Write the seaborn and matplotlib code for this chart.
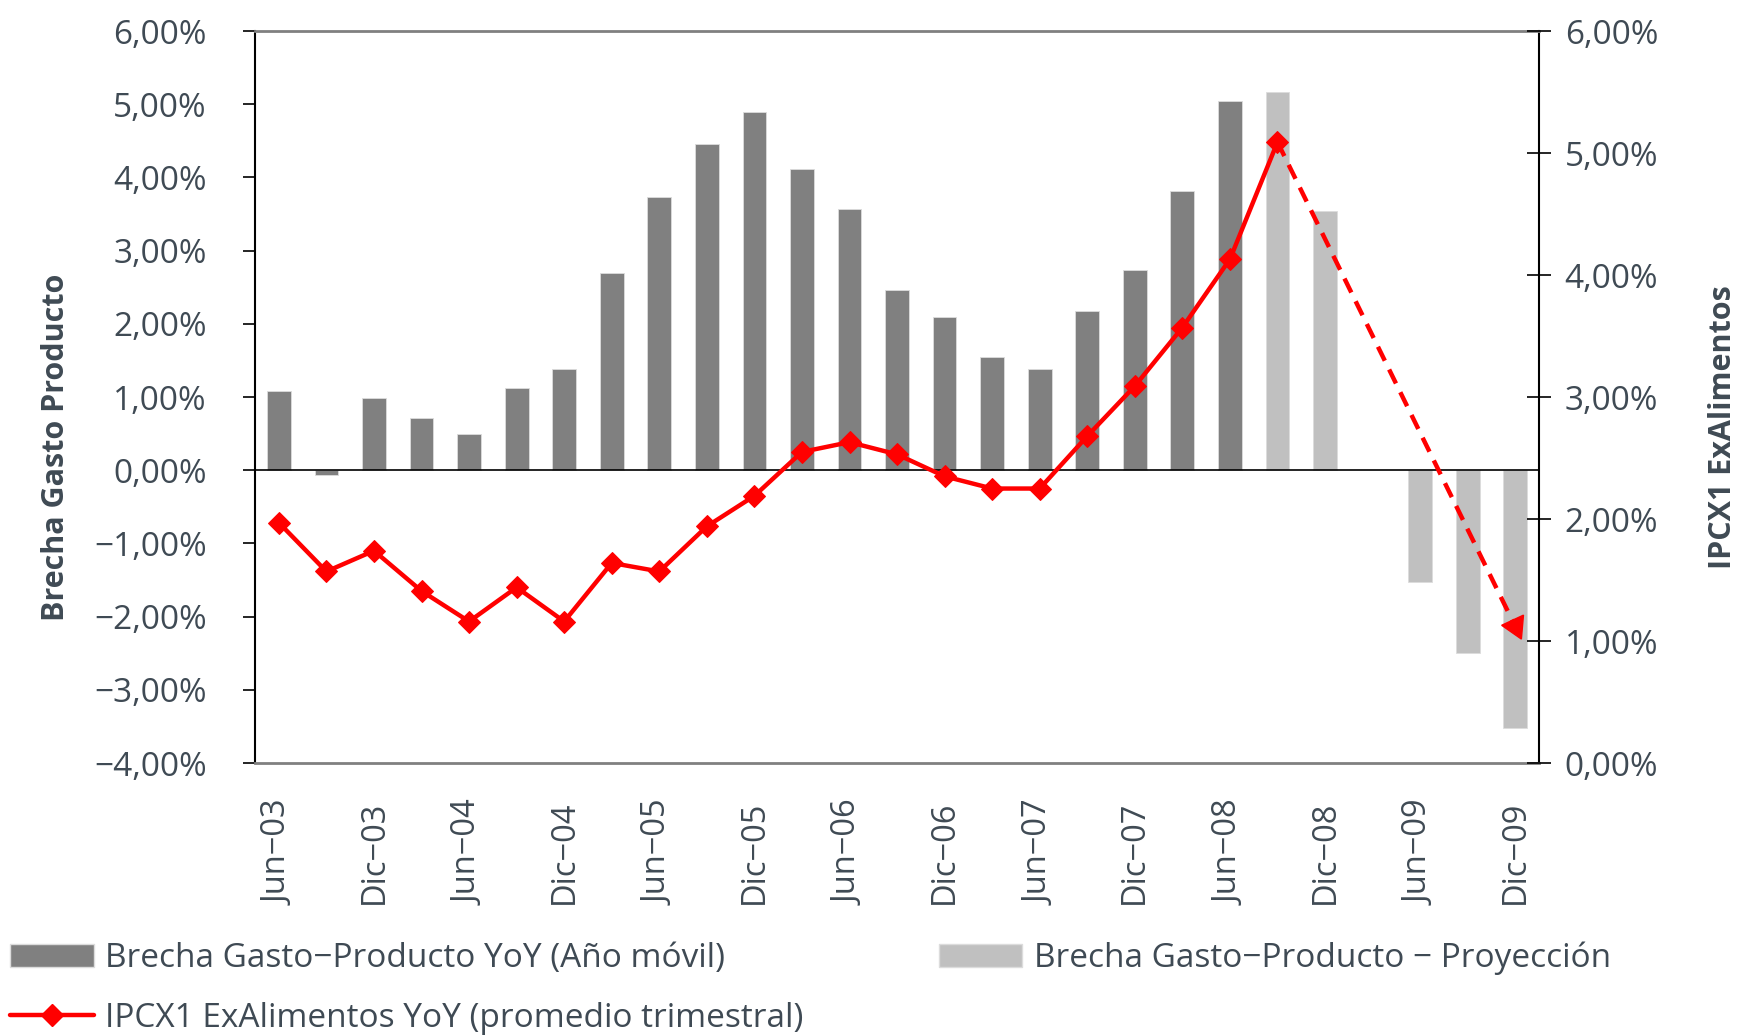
import numpy as np
import pandas as pd
import matplotlib
matplotlib.use("Agg")
import matplotlib.pyplot as plt
import seaborn as sns
from matplotlib.ticker import FuncFormatter, MultipleLocator
from matplotlib.patches import Patch
from matplotlib.lines import Line2D

# --------------------------------------------------
# Datos
# --------------------------------------------------
fechas = ["Jun−03", "Sep−03", "Dic−03", "Mar−04", "Jun−04", "Sep−04", "Dic−04",
          "Mar−05", "Jun−05", "Sep−05", "Dic−05", "Mar−06", "Jun−06", "Sep−06",
          "Dic−06", "Mar−07", "Jun−07", "Sep−07", "Dic−07", "Mar−08", "Jun−08",
          "Sep−08", "Dic−08", "Mar−09", "Jun−09", "Sep−09", "Dic−09"]

# Brecha gasto-producto (año móvil), Jun-03 .. Jun-08
brecha_fechas = fechas[:21]
brecha = [1.08, -0.06, 0.99, 0.71, 0.49, 1.12, 1.38, 2.69, 3.73, 4.46, 4.89,
          4.11, 3.57, 2.46, 2.09, 1.55, 1.38, 2.17, 2.73, 3.82, 5.05]

# Proyección (Mar-09 sin dato)
proy_fechas = ["Sep−08", "Dic−08", "Jun−09", "Sep−09", "Dic−09"]
proyeccion = [5.17, 3.54, -1.53, -2.50, -3.52]

# IPCX1 ExAlimentos YoY (promedio trimestral), Jun-03 .. Sep-08
ipc = [1.97, 1.57, 1.74, 1.41, 1.16, 1.44, 1.16, 1.64, 1.57, 1.94, 2.19,
       2.55, 2.63, 2.53, 2.35, 2.25, 2.25, 2.68, 3.09, 3.57, 4.13, 5.09]
# Proyección IPC: de Sep-08 a Dic-09
ipc_proy_fechas = ["Sep−08", "Dic−09"]
ipc_proy = [5.09, 1.12]

ticks_mostrados = fechas[::2]

COLOR_TEXTO = "#3f4a54"
COLOR_OSCURO = "#808080"
COLOR_CLARO = "#c0c0c0"
ROJO = "#ff0000"

df_barras = pd.DataFrame({
    "fecha": brecha_fechas + proy_fechas,
    "valor": brecha + proyeccion,
    "tipo": ["real"] * len(brecha) + ["proy"] * len(proyeccion),
})

pos = {f: i for i, f in enumerate(fechas)}
df_ipc = pd.DataFrame({"x": [pos[f] for f in fechas[:len(ipc)]], "valor": ipc})
df_ipc_proy = pd.DataFrame({"x": [pos[f] for f in ipc_proy_fechas], "valor": ipc_proy})

# --------------------------------------------------
# Gráfico
# --------------------------------------------------
sns.set_theme(style="white")
plt.rcParams["font.family"] = ["Open Sans", "DejaVu Sans"]
plt.rcParams["text.color"] = COLOR_TEXTO

fig = plt.figure(figsize=(17.4, 10.36), dpi=100)
ax = fig.add_axes([0.1466, 0.2635, 0.7379, 0.7065])

sns.barplot(data=df_barras, x="fecha", y="valor", hue="tipo", order=fechas,
            hue_order=["real", "proy"], palette=[COLOR_OSCURO, COLOR_CLARO],
            dodge=False, width=0.5, errorbar=None, legend=False,
            edgecolor="#dcdcdc", linewidth=0.6, ax=ax)

ax.set_xlim(-0.5, len(fechas) - 0.5)
ax.set_ylim(-4, 6)
ax.yaxis.set_major_locator(MultipleLocator(1))
fmt = FuncFormatter(lambda v, p: f"{v:.2f}%".replace(".", ",").replace("-", "\u2212"))
ax.yaxis.set_major_formatter(fmt)
ax.axhline(0, color="black", lw=1.2, zorder=3)

ax.set_xticks([pos[f] for f in ticks_mostrados])
ax.set_xticklabels(ticks_mostrados, rotation=90)
ax.tick_params(axis="x", length=0, pad=27, labelsize=23.5, labelcolor=COLOR_TEXTO)
ax.tick_params(axis="y", direction="out", length=9, width=1.2, color="black",
               pad=26, labelsize=24, labelcolor=COLOR_TEXTO, left=True)
ax.set_xlabel("")
ax.set_ylabel("Brecha Gasto Producto", fontsize=22, fontweight="bold",
              color=COLOR_TEXTO)
ax.yaxis.set_label_coords(-0.155, 0.432)
ax.yaxis.label.set_verticalalignment("center")

for lado in ["left", "right"]:
    ax.spines[lado].set_color("black")
    ax.spines[lado].set_linewidth(1.5)
for lado in ["top", "bottom"]:
    ax.spines[lado].set_color("#808080")
    ax.spines[lado].set_linewidth(2)

# Eje derecho: IPC
ax2 = ax.twinx()
sns.lineplot(data=df_ipc, x="x", y="valor", color=ROJO, lw=3.2, marker="D",
             markersize=11, markeredgecolor=ROJO, ax=ax2)
sns.lineplot(data=df_ipc_proy, x="x", y="valor", color=ROJO, lw=3.2,
             linestyle=(0, (3.5, 2.2)), ax=ax2)
ax2.plot(df_ipc_proy["x"].iloc[-1], df_ipc_proy["valor"].iloc[-1],
         marker=(3, 0, -155), markersize=20, color=ROJO, linestyle="none")

ax2.set_ylim(0, 6)
ax2.set_xlim(-0.5, len(fechas) - 0.5)
ax2.yaxis.set_major_locator(MultipleLocator(1))
ax2.yaxis.set_major_formatter(fmt)
ax2.tick_params(axis="y", direction="inout", length=17, width=1.2,
                color="black", pad=10, labelsize=24, labelcolor=COLOR_TEXTO,
                right=True)
ax2.set_xlabel("")
ax2.set_ylabel("IPCX1 ExAlimentos", fontsize=22, fontweight="bold",
               color=COLOR_TEXTO)
ax2.yaxis.set_label_coords(1.143, 0.459)
ax2.yaxis.label.set_verticalalignment("center")
for s in ax2.spines.values():
    s.set_visible(False)

# Leyenda
handles = [
    Patch(facecolor=COLOR_OSCURO, edgecolor="#dcdcdc",
          label="Brecha Gasto−Producto YoY (Año móvil)"),
    Line2D([0], [0], color=ROJO, lw=3.2, marker="D", markersize=11,
           label="IPCX1 ExAlimentos YoY (promedio trimestral)"),
    Patch(facecolor=COLOR_CLARO, edgecolor="#dcdcdc",
          label="Brecha Gasto−Producto − Proyección"),
]
fig.legend(handles=handles, ncol=2, loc="lower left",
           bbox_to_anchor=(0.006, 0.001), frameon=False, fontsize=24,
           borderpad=0, borderaxespad=0, handlelength=2.5, handleheight=0.7,
           handletextpad=0.35, columnspacing=4.05, labelspacing=0.8,
           labelcolor=COLOR_TEXTO)

fig.savefig("out.png", dpi=100)
plt.close(fig)
